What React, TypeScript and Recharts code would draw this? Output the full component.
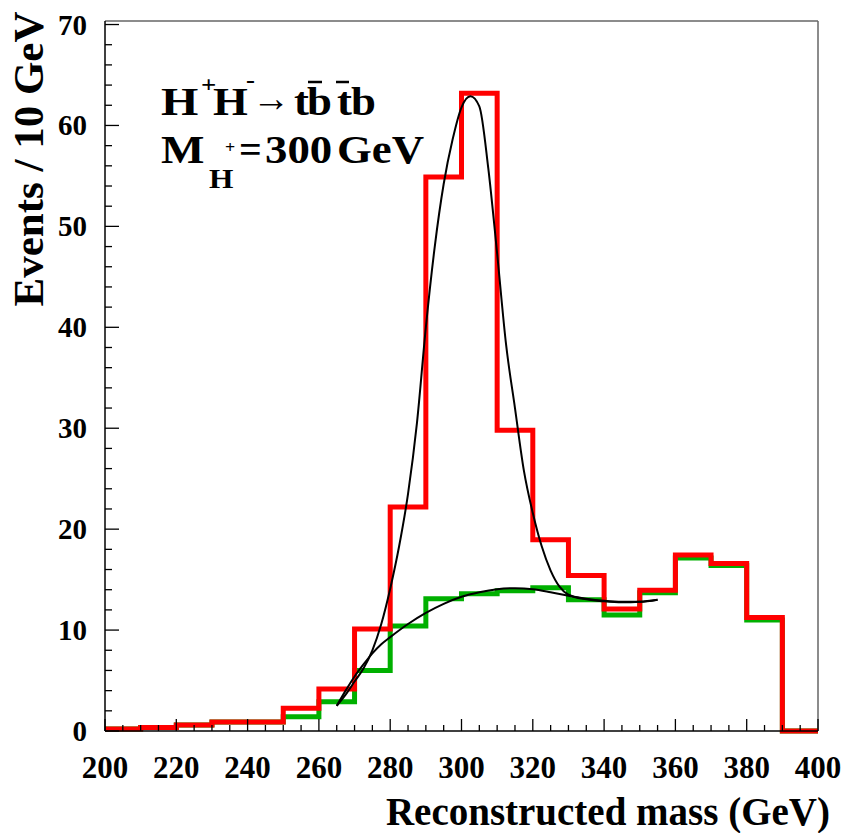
import { ComposedChart, Line, XAxis, YAxis, ReferenceLine } from "recharts";

// lower edges of the 10 GeV bins
const BIN_LO = [200, 210, 220, 230, 240, 250, 260, 270, 280, 290, 300, 310, 320, 330, 340, 350, 360, 370, 380, 390];
const BIN_HI = 400;

// signal + background (red) and background only (green)
const RED_VALUES = [0.2, 0.35, 0.6, 0.9, 0.9, 2.25, 4.15, 10.1, 22.2, 54.9, 63.2, 29.8, 18.95, 15.4, 12.1, 13.95, 17.45, 16.6, 11.25, 0];
const GREEN_VALUES = [0.2, 0.35, 0.6, 0.9, 0.9, 1.4, 2.9, 6.0, 10.4, 13.1, 13.6, 13.9, 14.2, 13.0, 11.5, 13.7, 17.15, 16.4, 11.0, 0];

// fitted curves
const FIT_X = [265, 267.5, 270, 272.5, 275, 277.5, 280, 282.5, 285, 287.5, 290, 292.5, 295, 297.5, 300, 302.5, 305, 307.5, 310, 312.5, 315, 317.5, 320, 322.5, 325, 327.5, 330, 335, 340, 345, 350, 355];
const FIT_Y = [2.5, 3.6, 4.9, 6.2, 8.0, 10.6, 14.1, 18.3, 23.5, 30.5, 40.0, 48.0, 54.2, 58.6, 61.8, 62.9, 61.9, 55.8, 47.3, 38.3, 32.0, 25.8, 21.6, 18.3, 15.9, 14.3, 13.5, 13.05, 12.85, 12.75, 12.8, 13.0];

const BKG_X = [265, 267.5, 270, 272.5, 275, 277.5, 280, 285, 290, 295, 300, 305, 310, 315, 320, 325, 330, 335, 340, 345, 350, 355];
const BKG_Y = [2.5, 4.0, 5.4, 6.6, 7.7, 8.6, 9.3, 10.6, 11.7, 12.6, 13.3, 13.75, 14.05, 14.15, 14.05, 13.75, 13.4, 13.1, 12.9, 12.8, 12.8, 13.0];

const X_TICKS = [200, 205, 210, 215, 220, 225, 230, 235, 240, 245, 250, 255, 260, 265, 270, 275, 280, 285, 290, 295, 300, 305, 310, 315, 320, 325, 330, 335, 340, 345, 350, 355, 360, 365, 370, 375, 380, 385, 390, 395, 400];
const Y_TICKS = [0, 2, 4, 6, 8, 10, 12, 14, 16, 18, 20, 22, 24, 26, 28, 30, 32, 34, 36, 38, 40, 42, 44, 46, 48, 50, 52, 54, 56, 58, 60, 62, 64, 66, 68, 70];

const Y_MAX = 70.35;
const FONT = "'Liberation Serif', 'Times New Roman', serif";

const hist = (vals: number[]) => [...BIN_LO.map((x, i) => ({ x, y: vals[i] })), { x: BIN_HI, y: vals[vals.length - 1] }];
const curve = (xs: number[], ys: number[]) => xs.map((x, i) => ({ x, y: ys[i] }));

function YTick(props: any) {
  const { x, y, payload } = props;
  const v = payload.value;
  const major = v % 10 === 0;
  return (
    <g>
      <line x1={x} x2={x + (major ? 14 : 7)} y1={y} y2={y} stroke="#000" strokeWidth={1.3} />
      {major && (
        <text x={x - 18} y={y + 10} textAnchor="end" fontFamily={FONT} fontWeight="bold" fontSize={29} fill="#000">
          {v}
        </text>
      )}
    </g>
  );
}

function XTick(props: any) {
  const { x, y, payload } = props;
  const v = payload.value;
  const major = v % 20 === 0;
  return (
    <g>
      <line x1={x} x2={x} y1={y} y2={y - (major ? 12 : 6)} stroke="#000" strokeWidth={1.3} />
      {major && (
        <text x={x} y={y + 47} textAnchor="middle" fontFamily={FONT} fontWeight="bold" fontSize={31} fill="#000">
          {v}
        </text>
      )}
    </g>
  );
}

// a bold serif glyph run, a bit wider than Liberation Serif draws it
function T({ x, y, s, sx = 1.12, bold = true, children }: { x: number; y: number; s: number; sx?: number; bold?: boolean; children: React.ReactNode }) {
  return (
    <text transform={`translate(${x},${y}) scale(${sx},1)`} fontFamily={FONT} fontWeight={bold ? "bold" : "normal"} fontSize={s} fill="#000">
      {children}
    </text>
  );
}

export default function App() {
  return (
    <div style={{ position: "absolute", left: 0, top: 0, width: 843, height: 833, background: "#fff" }}>
      <ComposedChart width={843} height={833} margin={{ top: 21, right: 25, bottom: 42, left: 45 }}>
        <XAxis
          dataKey="x"
          type="number"
          domain={[200, 400]}
          ticks={X_TICKS}
          interval={0}
          height={60}
          tickSize={0}
          tickMargin={0}
          tickLine={false}
          axisLine={{ stroke: "#000", strokeWidth: 1.5 }}
          tick={(p: any) => <XTick {...p} />}
        />
        <YAxis
          type="number"
          domain={[0, Y_MAX]}
          ticks={Y_TICKS}
          interval={0}
          width={60}
          tickSize={0}
          tickMargin={0}
          tickLine={false}
          axisLine={{ stroke: "#000", strokeWidth: 1.5 }}
          tick={(p: any) => <YTick {...p} />}
        />
        <ReferenceLine y={Y_MAX} stroke="#666" strokeWidth={1.5} />
        <ReferenceLine x={400} stroke="#666" strokeWidth={1.5} />
        <Line data={hist(GREEN_VALUES)} dataKey="y" type="stepAfter" stroke="#00b000" strokeWidth={5} dot={false} isAnimationActive={false} />
        <Line data={hist(RED_VALUES)} dataKey="y" type="stepAfter" stroke="#ff0000" strokeWidth={5} dot={false} isAnimationActive={false} />
        <Line data={curve(BKG_X, BKG_Y)} dataKey="y" type="monotone" stroke="#000" strokeWidth={2} dot={false} isAnimationActive={false} />
        <Line data={curve(FIT_X, FIT_Y)} dataKey="y" type="monotone" stroke="#000" strokeWidth={2} dot={false} isAnimationActive={false} />
      </ComposedChart>
      <svg width={843} height={833} style={{ position: "absolute", left: 0, top: 0, pointerEvents: "none" }}>
        <text transform="translate(43,159) rotate(-90)" textAnchor="middle" fontSize={43} fontFamily={FONT} fontWeight="bold" fill="#000">
          Events / 10 GeV
        </text>
        <text x={830} y={825} textAnchor="end" fontSize={39} fontFamily={FONT} fontWeight="bold" fill="#000">
          Reconstructed mass (GeV)
        </text>
        {/* H+H- -> t bbar tbar b */}
        <T x={161} y={115} s={40} sx={1.2}>H</T>
        <T x={201} y={92} s={24}>+</T>
        <T x={213} y={115} s={40}>H</T>
        <T x={246} y={88} s={24}>-</T>
        <T x={252} y={111} s={38} bold={false} sx={1}>→</T>
        <T x={294} y={115} s={40}>t</T>
        <T x={307} y={115} s={40}>b</T>
        <line x1={308} x2={322} y1={82} y2={82} stroke="#000" strokeWidth={2.5} />
        <T x={337} y={115} s={40}>t</T>
        <line x1={336} x2={349} y1={82} y2={82} stroke="#000" strokeWidth={2.5} />
        <T x={351} y={115} s={40}>b</T>
        {/* M_H+ = 300 GeV */}
        <T x={161} y={163} s={40} sx={1.15}>M</T>
        <T x={209} y={188} s={28}>H</T>
        <T x={225} y={153} s={16}>+</T>
        <T x={239} y={163} s={40} sx={1}>=</T>
        <T x={265} y={163} s={40}>300</T>
        <T x={337} y={163} s={40}>GeV</T>
      </svg>
    </div>
  );
}
